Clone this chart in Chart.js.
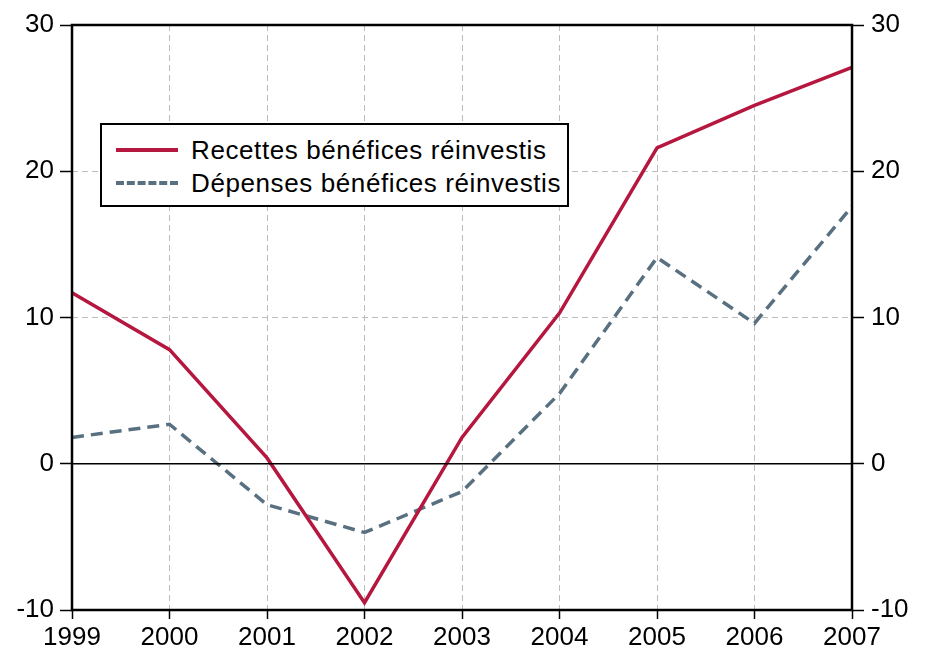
<!DOCTYPE html>
<html>
<head>
<meta charset="utf-8">
<script src="https://cdn.jsdelivr.net/npm/chart.js@4/dist/chart.umd.min.js"></script>
<style>
  html, body { margin:0; padding:0; background:#fff; }
  #wrap { position:relative; width:928px; height:656px; }
  #legend { position:absolute; left:100px; top:123px; width:465px; height:80px;
    border:2px solid #000; background:#fff; font-family:'Liberation Sans', Arial, sans-serif; font-size:26px; letter-spacing:0.6px; color:#000; }
  .row { position:absolute; left:0; height:30px; display:flex; align-items:center; }
  .sw { width:62px; height:0; margin-left:14px; margin-right:13px; }
</style>
</head>
<body>
<div id="wrap">
  <canvas id="c" width="928" height="656"></canvas>
  <div id="legend">
    <div class="row" style="top:10px"><span class="sw" style="border-top:4px solid #b5173f"></span><span>Recettes bénéfices réinvestis</span></div>
    <div class="row" style="top:43px"><span class="sw" style="border-top:4px dashed #587080"></span><span>Dépenses bénéfices réinvestis</span></div>
  </div>
</div>
<script>
// data
const years = ['1999','2000','2001','2002','2003','2004','2005','2006','2007'];
const recettes = [11.7, 7.8, 0.4, -9.5, 1.8, 10.3, 21.6, 24.5, 27.1];
const depenses = [1.8, 2.7, -2.8, -4.7, -1.9, 4.8, 14.1, 9.6, 17.6];
const yTicks = [-10, 0, 10, 20, 30];

const FONT = { family:"'Liberation Sans', Arial, sans-serif", size:26 };

// frame + zero line
const framePlugin = {
  id:'frame',
  afterDatasetsDraw(chart) {
    const {ctx, chartArea:a, scales} = chart;
    const y0 = scales.y.getPixelForValue(0);
    ctx.save();
    ctx.strokeStyle = '#000';
    ctx.lineWidth = 1.5;
    ctx.beginPath(); ctx.moveTo(a.left, y0); ctx.lineTo(a.right, y0); ctx.stroke();
    ctx.lineWidth = 2.5;
    ctx.strokeRect(a.left, a.top, a.right - a.left, a.bottom - a.top);
    ctx.restore();
  }
};

new Chart(document.getElementById('c'), {
  type:'line',
  data:{
    labels: years,
    datasets:[
      { label:'Recettes bénéfices réinvestis', data:recettes, borderColor:'#b5173f', borderWidth:3.5,
        pointRadius:0, tension:0, yAxisID:'y' },
      { label:'Dépenses bénéfices réinvestis', data:depenses, borderColor:'#587080', borderWidth:3.5,
        borderDash:[12,7], pointRadius:0, tension:0, yAxisID:'y' }
    ]
  },
  options:{
    responsive:false, animation:false,
    layout:{ padding:{ top:25, left:0, right:0, bottom:0 } },
    plugins:{ legend:{display:false}, tooltip:{enabled:false} },
    scales:{
      x:{
        offset:false,
        grid:{ color:'#bdbdbd', lineWidth:1, tickColor:'#000', tickLength:9, tickWidth:1.5 },
        border:{ display:false, dash:[6,4] },
        ticks:{ color:'#000', font:FONT, padding:3, maxRotation:0, autoSkip:false },
        afterFit(s){ s.height = 46; }
      },
      y:{
        position:'left', min:-10, max:30,
        afterBuildTicks(s){ s.ticks = yTicks.map(v => ({value:v})); },
        grid:{ color:'#bdbdbd', lineWidth:1, tickColor:'#000', tickLength:12, tickWidth:1.5 },
        border:{ display:false, dash:[6,4] },
        ticks:{ color:'#000', font:FONT, padding:6 },
        afterFit(s){ s.width = 72; }
      },
      y2:{
        position:'right', min:-10, max:30,
        afterBuildTicks(s){ s.ticks = yTicks.map(v => ({value:v})); },
        grid:{ drawOnChartArea:false, tickColor:'#000', tickLength:12, tickWidth:1.5 },
        border:{ display:false },
        ticks:{ color:'#000', font:FONT, padding:7 },
        afterFit(s){ s.width = 76; }
      }
    }
  },
  plugins:[framePlugin]
});
</script>
</body>
</html>
